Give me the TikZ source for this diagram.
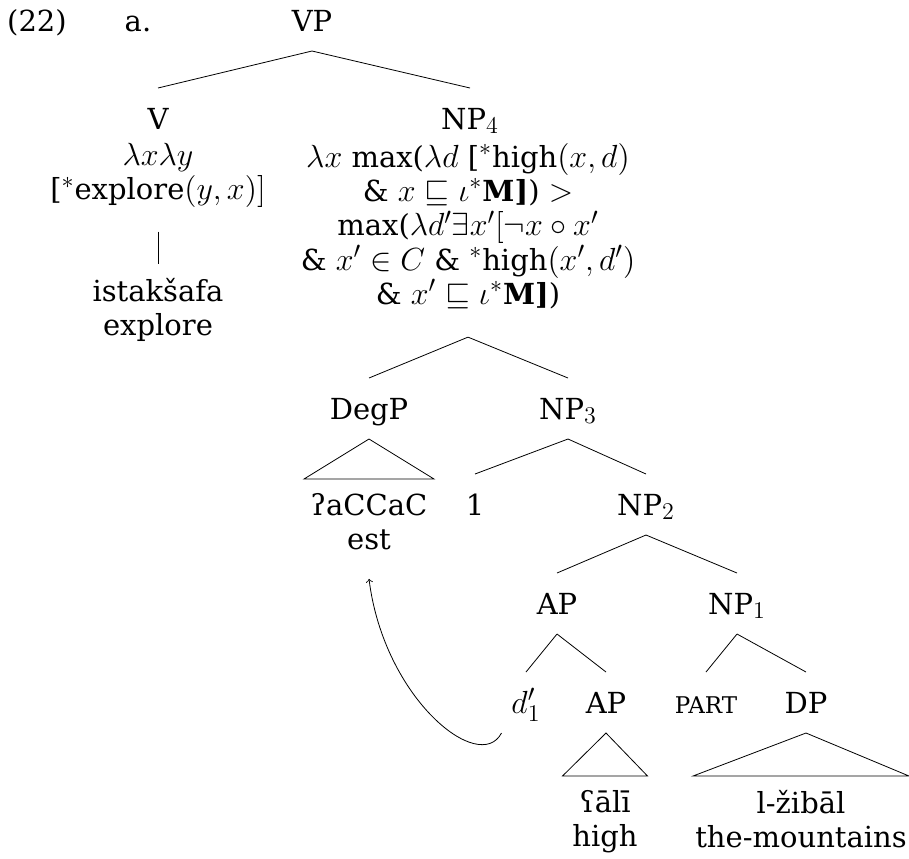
\RequirePackage{fix-cm}
\documentclass[tikz,border=0pt]{standalone}
\usepackage{amssymb}
\usepackage{fontspec}
\setmainfont{DejaVu Serif}
\DeclareMathSizes{14.5}{16}{12}{10}
\newcommand{\smallcap}[1]{{\fontsize{11.5}{12}\selectfont #1}}
\tikzset{
  lbl/.style={inner sep=0pt, outer xsep=0pt, outer ysep=7pt,
    text height=13.5pt, text depth=3pt, anchor=base},
  sem/.style={inner sep=0pt, outer xsep=0pt, outer ysep=7pt,
    align=center, anchor=north},
}
\begin{document}
\begin{tikzpicture}[x=0.5pt,y=-0.5pt,font=\fontsize{14.5}{17.2}\selectfont]
  \useasboundingbox (0,0) rectangle (909,858);
  % example number
  \node[lbl] (ex) at (37,31) {(22)};
  \node[lbl] (a) at (138,31) {a.};
  % top of the tree
  \node[lbl] (vp) at (312,31) {VP};
  \node[lbl] (v) at (158,129) {V};
  \node[lbl] (np4) at (470,129) {NP$_4$};
  \node[sem] (vsem) at (158,129) {$\lambda x\lambda y$\\{[}$^*$explore$(y,x)]$};
  \node[sem] (np4sem) at (468,129) {$\lambda x$ max($\lambda d$ [$^*$high$(x,d)$\\
    \& $x\sqsubseteq\iota^*$\textbf{M]}) $>$\\
    max($\lambda d'\exists x'[\neg x\circ x'$\\
    \& $x'\in C$ \& $^*$high$(x',d')$\\
    \& $x'\sqsubseteq\iota^*$\textbf{M]})};
  \node[sem] (ist) at (158,264) {istakšafa\\explore};
  % degree phrase and NP3
  \node[lbl] (degp) at (369,419) {DegP};
  \node[lbl] (np3) at (568,419) {NP$_3$};
  \node[sem] (acc) at (369,479) {ʔaCCaC\\est};
  \node[lbl] (one) at (475,515) {1};
  \node[lbl] (np2) at (646,515) {NP$_2$};
  \node[lbl] (ap) at (557,614) {AP};
  \node[lbl] (np1) at (737,614) {NP$_1$};
  \node[lbl] (d1) at (526,713) {$d'_1$};
  \node[lbl] (ap2) at (606,713) {AP};
  \node[lbl] (part) at (706,713) {\smallcap{PART}};
  \node[lbl] (dp) at (806,713) {DP};
  \node[sem] (ali) at (605,776) {ʕālī\\high};
  \node[sem] (mount) at (801,776) {l-žibāl\\the-mountains};
  % branches
  \draw (vp.south) -- (v.north);
  \draw (vp.south) -- (np4.north);
  \draw ([yshift=-5pt]vsem.south) -- (ist.north);
  \draw ([yshift=-7pt]np4sem.south) -- (degp.north);
  \draw ([yshift=-7pt]np4sem.south) -- (np3.north);
  \draw (np3.south) -- (one.north);
  \draw (np3.south) -- (np2.north);
  \draw (np2.south) -- (ap.north);
  \draw (np2.south) -- (np1.north);
  \draw (ap.south) -- (d1.north);
  \draw (ap.south) -- (ap2.north);
  \draw (np1.south) -- (part.north);
  \draw (np1.south) -- (dp.north);
  % roofs
  \draw (degp.south) -- ([xshift=-32.5pt]acc.north) -- ([xshift=32.5pt]acc.north) -- cycle;
  \draw (ap2.south) -- ([xshift=-21.25pt]ali.north) -- ([xshift=21.25pt]ali.north) -- cycle;
  \draw (dp.south) -- ([xshift=-54pt]mount.north) -- ([xshift=54pt]mount.north) -- cycle;
  % movement
  \draw[->] ([xshift=-5pt]d1.south west) .. controls +(-22,42) and +(15,120) .. ([yshift=-7.5pt]acc.south);
\end{tikzpicture}
\end{document}
